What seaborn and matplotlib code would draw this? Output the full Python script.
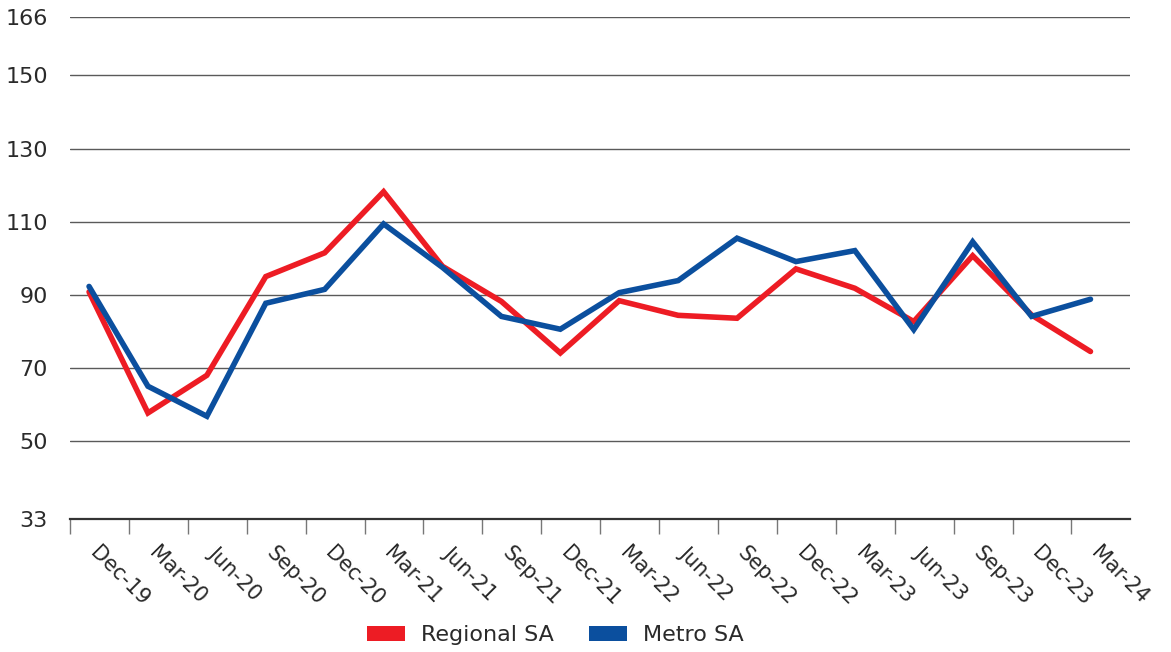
import matplotlib
matplotlib.use("Agg")
import matplotlib.pyplot as plt
import matplotlib.transforms as mtransforms
from matplotlib.patches import Patch
from matplotlib.ticker import FixedLocator
import numpy as np
import pandas as pd
import seaborn as sns

quarters = ["Dec-19", "Mar-20", "Jun-20", "Sep-20", "Dec-20", "Mar-21", "Jun-21",
            "Sep-21", "Dec-21", "Mar-22", "Jun-22", "Sep-22", "Dec-22", "Mar-23",
            "Jun-23", "Sep-23", "Dec-23", "Mar-24"]
regional_sa = [90.8, 57.7, 68.0, 95.0, 101.5, 118.2, 97.8, 88.2, 74.1, 88.4,
               84.4, 83.6, 97.1, 91.8, 82.7, 100.7, 84.5, 74.5]
metro_sa = [92.3, 65.0, 56.8, 87.7, 91.5, 109.4, 97.5, 84.1, 80.6, 90.6,
            93.9, 105.5, 99.1, 102.1, 80.5, 104.5, 84.1, 88.8]
series_names = ["Regional SA", "Metro SA"]
series_colors = ["#ED1C24", "#0B4F9E"]
y_ticks = [28.7, 50, 70, 90, 110, 130, 150, 166]
y_tick_labels = ["33", "50", "70", "90", "110", "130", "150", "166"]

df = pd.DataFrame({
    "x": list(range(len(quarters))) * 2,
    "value": regional_sa + metro_sa,
    "series": [series_names[0]] * len(quarters) + [series_names[1]] * len(quarters),
})

sns.set_style("white")
plt.rcParams["font.family"] = ["DejaVu Sans"]
text_color = "#2a2a2a"

fig = plt.figure(figsize=(11.71, 6.52), dpi=100)
ax = fig.add_axes([0.0598, 0.204, 0.905, 0.770])

for y in y_ticks[1:]:
    ax.axhline(y, color="#5a5a5a", lw=1.0, zorder=1)

sns.lineplot(data=df, x="x", y="value", hue="series", hue_order=series_names,
             palette=series_colors, lw=4.0, ax=ax, legend=False, zorder=3,
             solid_capstyle="round", solid_joinstyle="miter")

ax.set_xlim(-0.323, len(quarters) - 0.333)
ax.set_ylim(y_ticks[0], 166)
ax.set_yticks(y_ticks)
ax.set_yticklabels(y_tick_labels, fontsize=16, color=text_color)
ax.tick_params(axis="y", length=0, pad=16)

ax.set_xticks(range(len(quarters)))
ax.set_xticklabels(quarters, rotation=-45, ha="left", va="top",
                   rotation_mode="anchor", fontsize=15, color=text_color)
ax.tick_params(axis="x", which="major", length=0, pad=17)
shift = mtransforms.ScaledTranslation(11 / 100, 0, fig.dpi_scale_trans)
for lbl in ax.get_xticklabels():
    lbl.set_transform(lbl.get_transform() + shift)
ax.xaxis.set_minor_locator(FixedLocator(np.arange(len(quarters) + 1) - 0.323))
ax.tick_params(axis="x", which="minor", length=11, width=1.0, color="#777777",
               direction="out", bottom=True)
ax.set_xlabel("")
ax.set_ylabel("")

for side in ["left", "right", "top"]:
    ax.spines[side].set_visible(False)
ax.spines["bottom"].set_color("#333333")
ax.spines["bottom"].set_linewidth(1.6)

handles = [Patch(facecolor=c, edgecolor="none") for c in series_colors]
fig.legend(handles, series_names, loc="center", bbox_to_anchor=(0.474, 0.026),
           ncol=2, frameon=False, fontsize=16, handlelength=1.71,
           handleheight=0.63, columnspacing=1.58, handletextpad=0.72,
           labelcolor=text_color, borderaxespad=0, borderpad=0)

fig.savefig("out.png", dpi=100)
